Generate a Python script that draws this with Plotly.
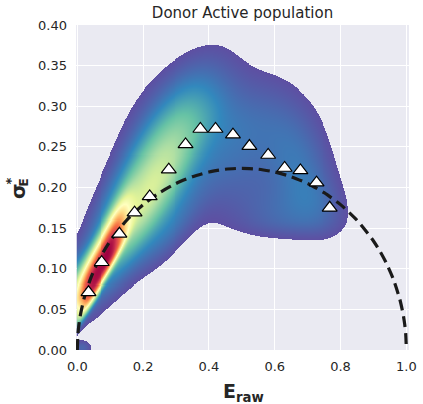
import numpy as np
import plotly.graph_objects as go

# ---- data ----
# per-bin points (triangles)
bin_E = [0.034, 0.074, 0.128, 0.174, 0.220, 0.278, 0.329, 0.374, 0.420, 0.473, 0.523, 0.580, 0.630, 0.678, 0.727, 0.767]
bin_sigma = [0.071, 0.108, 0.143, 0.169, 0.189, 0.222, 0.253, 0.272, 0.272, 0.265, 0.251, 0.240, 0.224, 0.221, 0.206, 0.175]

# dashed reference curve
curve_E = [0.0, 0.002, 0.005, 0.01, 0.02, 0.04, 0.06, 0.08, 0.10, 0.15, 0.20, 0.25, 0.30, 0.35, 0.40, 0.45, 0.50,
           0.55, 0.60, 0.65, 0.70, 0.75, 0.80, 0.85, 0.90, 0.92, 0.94, 0.96, 0.98, 0.99, 0.995, 0.998, 1.0]
curve_sigma = [0.0, 0.020, 0.0315, 0.0445, 0.0626, 0.0876, 0.1062, 0.1213, 0.1342, 0.1597, 0.1789, 0.1936, 0.2049,
               0.2133, 0.2191, 0.2225, 0.2236, 0.2225, 0.2191, 0.2133, 0.2049, 0.1936, 0.1789, 0.1597, 0.1342,
               0.1213, 0.1062, 0.0876, 0.0626, 0.0445, 0.0315, 0.020, 0.0]

# density estimate: lobes
# centre E, centre sigma, ridge slope, spread in E, spread above / below the ridge, flatness, height
lobe_E = [0.074, 0.0, 0.20, 0.28, 0.44, 0.69, 0.645, 0.014]
lobe_S = [0.100, 0.066, 0.185, 0.150, 0.268, 0.215, 0.163, 0.002]
lobe_slope = [0.70, 0.35, 0.55, 0.40, 0.0, -0.3, 0.0, 0.0]
lobe_sE = [0.058, 0.035, 0.110, 0.070, 0.160, 0.075, 0.105, 0.020]
lobe_up = [0.032, 0.026, 0.050, 0.040, 0.052, 0.050, 0.030, 0.006]
lobe_down = [0.016, 0.014, 0.037, 0.025, 0.065, 0.040, 0.018, 0.006]
lobe_power = [3.0, 2.0, 2.0, 2.0, 2.0, 2.0, 2.0, 2.0]
lobe_w = [0.75, 0.25, 0.36, 0.07, 0.10, 0.07, 0.06, 0.06]
density_floor = 0.03

x_ticks = [0.0, 0.2, 0.4, 0.6, 0.8, 1.0]
y_ticks = [0.00, 0.05, 0.10, 0.15, 0.20, 0.25, 0.30, 0.35, 0.40]

spectral_r = ['#5e4fa2', '#3288bd', '#66c2a5', '#abdda4', '#e6f598', '#ffffbf',
              '#fee08b', '#fdae61', '#f46d43', '#d53e4f', '#9e0142']

# ---- density grid ----
gE = np.arange(0.0, 0.9, 0.003)
gS = np.arange(0.0, 0.4, 0.00125)
EE, SS = np.meshgrid(gE, gS)
Z = np.zeros_like(EE)
for e, s, k, se, su, sd, p, w in zip(lobe_E, lobe_S, lobe_slope, lobe_sE, lobe_up, lobe_down,
                                     lobe_power, lobe_w):
    r = SS - (s + k * (EE - e))
    spread = np.where(r > 0, su, sd)
    Z += w * np.exp(-0.5 * (np.abs((EE - e) / se) ** p + np.abs(r / spread) ** p))
zmax = Z.max()
Z = np.where(Z < density_floor, np.nan, Z)
Z = np.round(Z, 4)

fig = go.Figure()
fig.add_trace(go.Heatmap(
    x=np.round(gE, 4), y=np.round(gS, 5), z=Z,
    colorscale=[[i / 10, c] for i, c in enumerate(spectral_r)],
    zmin=density_floor, zmax=zmax, showscale=False, hoverinfo='skip'))
fig.add_trace(go.Scatter(
    x=curve_E, y=curve_sigma, mode='lines',
    line=dict(color='#1a1a1a', width=3.2, dash='11px,6px', shape='spline', smoothing=0.6),
    hoverinfo='skip'))
fig.add_trace(go.Scatter(
    x=bin_E, y=bin_sigma, mode='markers',
    marker=dict(symbol='triangle-up', size=13, color='white', line=dict(color='black', width=1.2))))

font_col = '#262626'
fig.update_layout(
    width=423, height=404,
    margin=dict(l=76, r=14, t=25, b=54),
    plot_bgcolor='#eaeaf2', paper_bgcolor='white',
    showlegend=False,
    font=dict(family='DejaVu Sans', size=13, color=font_col),
    title=dict(text='Donor Active population', x=0.5, xanchor='center', xref='paper',
               y=1 - 13 / 404, yref='container', yanchor='middle',
               font=dict(size=15, color=font_col)),
)
fig.update_xaxes(range=[-0.004, 1.008], tickvals=x_ticks, ticktext=[f'{v:.1f}' for v in x_ticks],
                 showgrid=True, gridcolor='white', gridwidth=1.3, zeroline=False, showline=False,
                 ticks='', ticklen=0, ticklabelstandoff=7, automargin=False)
fig.update_yaxes(range=[0, 0.4], tickvals=y_ticks, ticktext=[f'{v:.2f}' for v in y_ticks],
                 showgrid=True, gridcolor='white', gridwidth=1.3, zeroline=False, showline=False,
                 ticks='', ticklen=0, ticklabelstandoff=8, automargin=False)

def px_x(p):
    return (p - 76) / 333.0

def px_y(p):
    return (350 - p) / 325.0

fig.add_annotation(text='<b>E<sub>raw</sub></b>', x=px_x(243), y=px_y(392), xref='paper', yref='paper',
                   showarrow=False, font=dict(size=19, color=font_col), xanchor='center', yanchor='middle')
fig.add_annotation(text='<b>σ</b>', x=px_x(18), y=px_y(191), xref='paper', yref='paper', textangle=-90,
                   showarrow=False, font=dict(size=20, color=font_col), xanchor='center', yanchor='middle')
fig.add_annotation(text='<b>*</b>', x=px_x(10), y=px_y(181.5), xref='paper', yref='paper', textangle=-90,
                   showarrow=False, font=dict(size=13, color=font_col), xanchor='center', yanchor='middle')
fig.add_annotation(text='<b>E</b>', x=px_x(23), y=px_y(182.5), xref='paper', yref='paper', textangle=-90,
                   showarrow=False, font=dict(size=12, color=font_col), xanchor='center', yanchor='middle')

fig.write_html('out.html')
